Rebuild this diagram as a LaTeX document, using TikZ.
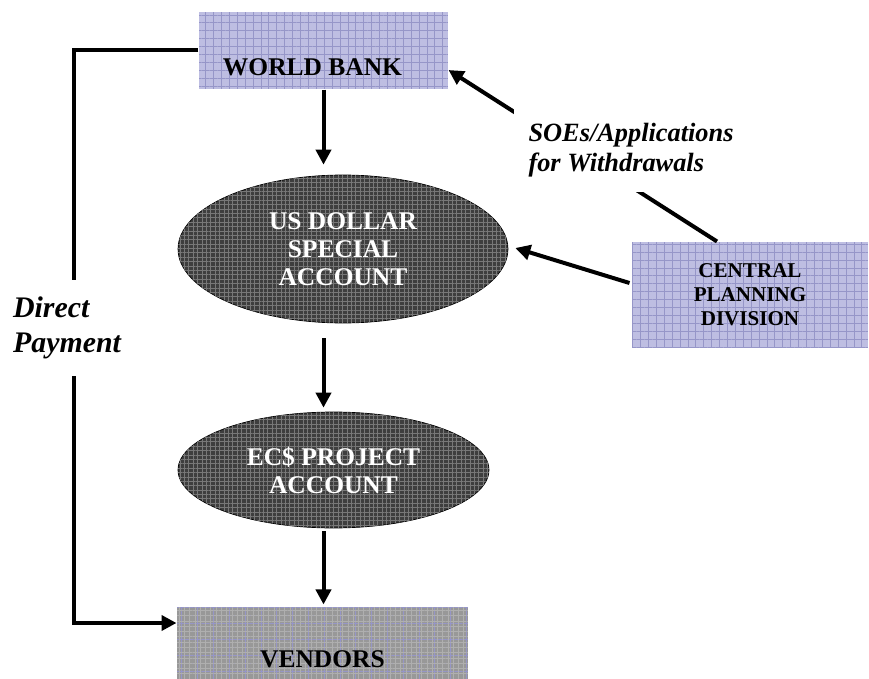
\documentclass[tikz,border=0pt]{standalone}
\usepackage{fontspec}
\setmainfont{Liberation Serif}
\usepackage{tikz}
\usetikzlibrary{arrows.meta,calc,shapes.geometric,patterns.meta}

\definecolor{bankblue}{RGB}{190,190,226}
\definecolor{bankline}{RGB}{150,150,200}
\definecolor{ovaldark}{RGB}{62,62,62}
\definecolor{ovalline}{RGB}{120,120,120}
\definecolor{vendorgray}{RGB}{152,152,152}
\definecolor{vendorline}{RGB}{175,175,175}

\begin{document}
\begin{tikzpicture}[x=0.02cm,y=-0.02cm,semithick]
        \tikzstyle{bluebox}=[
            rectangle,
            fill=bankblue,
            postaction={pattern={Hatch[angle=0,distance=4.5pt,line width=0.4pt]}, pattern color=bankline},
            inner sep=0pt,
            align=center,
            font=\bfseries\fontsize{14.5}{16}\selectfont
        ]
        \tikzstyle{darkoval}=[
            ellipse,
            draw=black,
            thin,
            fill=ovaldark,
            postaction={pattern={Hatch[angle=0,distance=2.5pt,line width=0.5pt]}, pattern color=ovalline},
            text=white,
            inner sep=0pt,
            align=center,
            font=\bfseries\fontsize{14.5}{16}\selectfont
        ]
        \tikzstyle{flow}=[
            -{Triangle[length=0.3cm,width=0.3cm]},
            line width=0.08cm
        ]
        \tikzstyle{sidenote}=[
            fill=white,
            align=left,
            font=\bfseries\itshape
        ]

        \useasboundingbox (0,0) rectangle (869,679);

        \node[bluebox, minimum width=4.98cm, text height=1.28cm, text depth=0.26cm] (wb) at (323.5,50.5) {\hspace*{-0.44cm}WORLD BANK};
        \node[darkoval, minimum width=6.6cm, minimum height=2.96cm] (usd) at (343,249) {US DOLLAR\\SPECIAL\\ACCOUNT};
        \node[darkoval, minimum width=6.22cm, minimum height=2.32cm] (ec) at (333.5,470) {EC\$ PROJECT\\ACCOUNT};
        \node[bluebox, fill=vendorgray, postaction={pattern={Hatch[angle=0,distance=3pt,line width=0.4pt]}, pattern color=vendorline}, minimum width=5.82cm, text height=1.2cm, text depth=0.34cm] (vendors) at (322.5,645.5) {VENDORS};
        \node[bluebox, minimum width=4.72cm, minimum height=2.12cm, font=\bfseries\fontsize{12}{13.6}\selectfont] (cpd) at (750,295) {CENTRAL\\PLANNING\\DIVISION};

        \draw[flow] (wb.south) -- ($(wb.south |- usd.north)+(0,-10)$);
        \draw[flow] ($(wb.south |- usd.south)+(0,15)$) -- ($(wb.south |- ec.north)+(0,-4)$);
        \draw[flow] ($(wb.south |- ec.south)+(0,3)$) -- ($(wb.south |- vendors.north)+(0,-2)$);
        \draw[flow] ($(cpd.west)+(-2,-12)$) -- ($(usd.east)+(7,-1)$);
        \draw[flow] ($(cpd.north)+(-33,0)$) -- ($(wb.east)+(0,19.5)$);
        \draw[flow] (wb.west) -- ++(-124,0) |- ($(vendors.west)+(0,-22.5)$);

        % labels sit on top of the lines they break
        \node[sidenote, anchor=west, inner sep=0.3cm, font=\bfseries\itshape\fontsize{15}{17}\selectfont] (soe) at (513,150) {SOEs/Applications\\for Withdrawals};
        \node[sidenote, inner xsep=0pt, minimum height=1.94cm, font=\bfseries\itshape\fontsize{17}{20}\selectfont] (dp) at (67,328) {Direct\\Payment};

    \end{tikzpicture}
\end{document}
